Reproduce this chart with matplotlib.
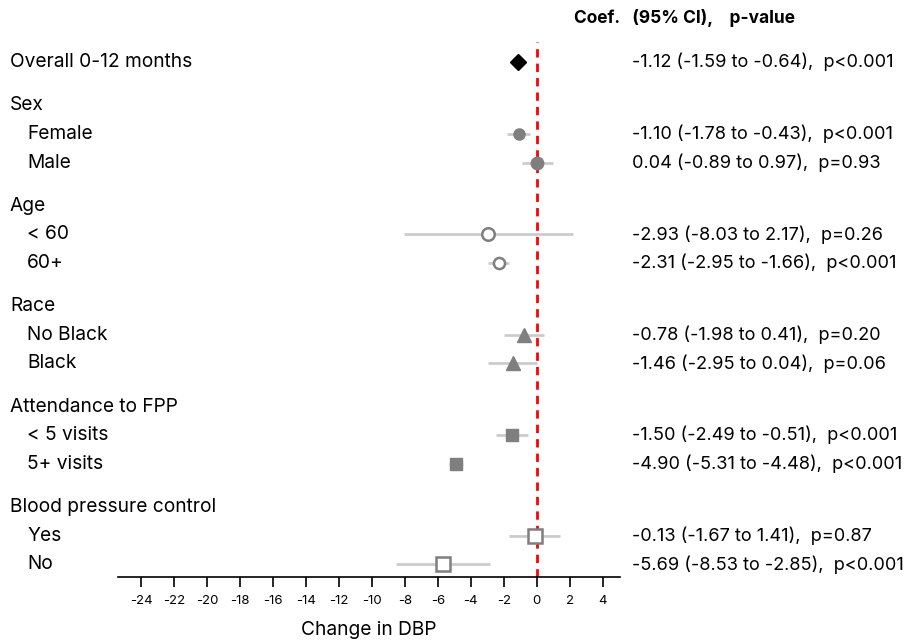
import matplotlib.pyplot as plt
from matplotlib.transforms import blended_transform_factory

plt.rcParams['font.family'] = ['Inter', 'Liberation Sans', 'DejaVu Sans']

# Datos de la figura
etiquetas = ['Overall 0-12 months', 'Sex', 'Female', 'Male', 'Age', '< 60', '60+',
             'Race', 'No Black', 'Black', 'Attendance to FPP', '< 5 visits', '5+ visits',
             'Blood pressure control', 'Yes', 'No']
es_grupo = [True, True, False, False, True, False, False, True, False, False,
            True, False, False, True, False, False]
coef = [-1.12, None, -1.10, 0.04, None, -2.93, -2.31, None, -0.78, -1.46,
        None, -1.50, -4.90, None, -0.13, -5.69]
ci_bajo = [-1.59, None, -1.78, -0.89, None, -8.03, -2.95, None, -1.98, -2.95,
           None, -2.49, -5.31, None, -1.67, -8.53]
ci_alto = [-0.64, None, -0.43, 0.97, None, 2.17, -1.66, None, 0.41, 0.04,
           None, -0.51, -4.48, None, 1.41, -2.85]
p_valor = ['p<0.001', None, 'p<0.001', 'p=0.93', None, 'p=0.26', 'p<0.001', None,
           'p=0.20', 'p=0.06', None, 'p<0.001', 'p<0.001', None, 'p=0.87', 'p<0.001']
ticks_x = list(range(-24, 5, 2))

# Posiciones verticales de cada fila
posiciones = [0, 1.5, 2.5, 3.5, 5, 6, 7, 8.5, 9.5, 10.5, 12, 13, 14, 15.5, 16.5, 17.5]

# Estilo de marcador por fila
estilos = {
    0: dict(marker='D', mfc='black', mec='black', ms=8),
    2: dict(marker='o', mfc='#7f7f7f', mec='#7f7f7f', ms=8),
    3: dict(marker='o', mfc='#7f7f7f', mec='#7f7f7f', ms=9),
    5: dict(marker='o', mfc='white', mec='#7f7f7f', ms=9, mew=1.8),
    6: dict(marker='o', mfc='white', mec='#7f7f7f', ms=8, mew=1.8),
    8: dict(marker='^', mfc='#7f7f7f', mec='#7f7f7f', ms=10),
    9: dict(marker='^', mfc='#7f7f7f', mec='#7f7f7f', ms=10),
    11: dict(marker='s', mfc='#7f7f7f', mec='#7f7f7f', ms=9),
    12: dict(marker='s', mfc='#7f7f7f', mec='#7f7f7f', ms=9),
    14: dict(marker='s', mfc='white', mec='#7f7f7f', ms=10, mew=1.8),
    15: dict(marker='s', mfc='white', mec='#7f7f7f', ms=10, mew=1.8),
}

fig = plt.figure(figsize=(9.15, 6.42), dpi=100)
ax = fig.add_axes([118 / 915, 1 - 577 / 642, (620 - 118) / 915, (577 - 42) / 642])
ax.set_xlim(-25.4, 5.05)
ax.set_ylim(17.94, -0.7)
trans = blended_transform_factory(fig.transFigure, ax.transData)

# Línea de referencia en cero
ax.axvline(0, color='#ff0000', linestyle=(0, (3, 2.2)), linewidth=2, zorder=1)

for i, y in enumerate(posiciones):
    if coef[i] is not None:
        ax.plot([ci_bajo[i], ci_alto[i]], [y, y], color='#cccccc', linewidth=2, zorder=2,
                solid_capstyle='butt')
        ax.plot(coef[i], y, linestyle='none', zorder=3, **estilos[i])
        texto = f'{coef[i]:.2f} ({ci_bajo[i]:.2f} to {ci_alto[i]:.2f}),  {p_valor[i]}'
        ax.text(632 / 915, y, texto, transform=trans,
                ha='left', va='center', fontsize=13.1, clip_on=False)
    x_etiqueta = 10 / 915 if es_grupo[i] else 27 / 915
    ax.text(x_etiqueta, y, etiquetas[i], transform=trans,
            ha='left', va='center', fontsize=13.8, clip_on=False)

# Encabezado
fig.text(684 / 915, 1 - 18 / 642, 'Coef.   (95% CI),    p-value', ha='center', va='center',
         fontsize=12.5, fontweight='bold')

for lado in ['top', 'right', 'left']:
    ax.spines[lado].set_visible(False)
ax.spines['bottom'].set_linewidth(1.2)
ax.set_yticks([])
ax.set_xticks(ticks_x)
ax.set_xticklabels([str(t) for t in ticks_x], fontsize=9.5)
ax.tick_params(axis='x', length=7, width=1.2, pad=6)
ax.set_xlabel('Change in DBP', fontsize=13.8, labelpad=10)

plt.savefig('out.png', dpi=100)
